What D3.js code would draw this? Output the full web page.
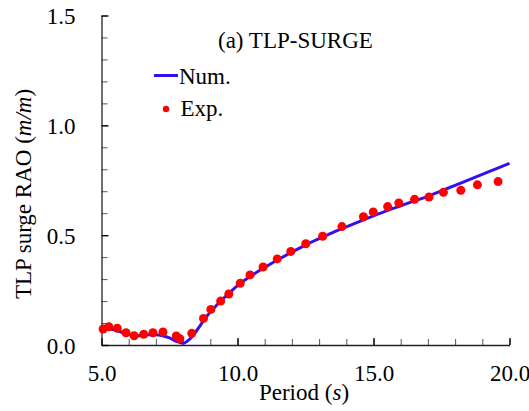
<!DOCTYPE html>
<html>
<head>
	<meta charset="utf-8">
	<script src="https://cdn.jsdelivr.net/npm/d3@7"></script>
</head>
<body style="margin:0;background-color:#fff;">
</body>
</html>
<script type="text/javascript">
	var width = 529;
	var height = 411;
	var font = "Liberation Serif";

	// numerical RAO curve
	var numPeriod = [5.0, 5.25, 5.5, 5.75, 6.0, 6.25, 6.5, 6.75, 7.0, 7.25, 7.5, 7.75, 8.0, 8.25, 8.5, 8.75,
		9.0, 9.25, 9.5, 9.75, 10.0, 10.5, 11.0, 11.5, 12.0, 12.5, 13.0, 13.5, 14.0, 14.5, 15.0,
		15.5, 16.0, 16.5, 17.0, 17.5, 18.0, 18.5, 19.0, 19.5, 20.0];
	var numRao = [0.066, 0.073, 0.068, 0.058, 0.048, 0.042, 0.043, 0.047, 0.047, 0.042, 0.032, 0.017, 0.008, 0.028, 0.066, 0.110,
		0.150, 0.183, 0.214, 0.243, 0.270, 0.315, 0.353, 0.389, 0.423, 0.455, 0.484, 0.512, 0.538, 0.563, 0.588,
		0.612, 0.634, 0.656, 0.677, 0.702, 0.727, 0.752, 0.777, 0.802, 0.827];

	// experiment points
	var expPeriod = [5.06, 5.27, 5.58, 5.90, 6.20, 6.55, 6.89, 7.26, 7.75, 7.88, 8.32, 8.75, 9.02, 9.38, 9.68,
		10.10, 10.46, 10.94, 11.46, 11.96, 12.51, 13.13, 13.84, 14.63, 14.99, 15.52, 15.93, 16.51, 17.04,
		17.57, 18.21, 18.82, 19.58];
	var expRao = [0.073, 0.083, 0.076, 0.056, 0.042, 0.049, 0.056, 0.059, 0.041, 0.029, 0.053, 0.121, 0.162, 0.200, 0.232,
		0.281, 0.319, 0.355, 0.392, 0.426, 0.461, 0.495, 0.539, 0.584, 0.606, 0.630, 0.647, 0.663, 0.674,
		0.695, 0.704, 0.729, 0.744];

	var xTicks = [5, 10, 15, 20];
	var yTicks = [0, 0.5, 1.0, 1.5];

	var svg = d3.select("body").append("svg").attr("width", width).attr("height", height);

	var x = d3.scaleLinear().domain([5, 20]).range([101.5, 509.5]);
	var y = d3.scaleLinear().domain([0, 1.5]).range([345, 15.5]);

	// minor ticks first, then the major ones on top
	svg.append("g").attr("transform", "translate(0,345)")
		.call(d3.axisBottom(x).tickValues(d3.range(5, 20.01, 1)).tickSizeInner(-6).tickSizeOuter(0).tickFormat(""))
		.call(function(g){ g.select(".domain").remove(); g.selectAll("line").attr("stroke", "#555"); });
	svg.append("g").attr("transform", "translate(101.5,0)")
		.call(d3.axisLeft(y).tickValues(d3.range(0, 1.501, 0.1)).tickSizeInner(-6).tickSizeOuter(0).tickFormat(""))
		.call(function(g){ g.select(".domain").remove(); g.selectAll("line").attr("stroke", "#555"); });

	var xAxis = svg.append("g").attr("transform", "translate(0,345)")
		.call(d3.axisBottom(x).tickValues(xTicks).tickSizeInner(-7).tickSizeOuter(0).tickFormat(d3.format(".1f")));
	var yAxis = svg.append("g").attr("transform", "translate(101.5,0)")
		.call(d3.axisLeft(y).tickValues(yTicks).tickSizeInner(-7).tickSizeOuter(0).tickFormat(d3.format(".1f")));

	[xAxis, yAxis].forEach(function(g){
		g.attr("font-family", font).attr("font-size", 23);
		g.select(".domain").attr("stroke", "#222").attr("stroke-width", 1.3);
		g.selectAll("line").attr("stroke", "#000").attr("stroke-width", 1.3);
		g.selectAll("text").attr("fill", "#000");
	});
	// labels sit well away from the axis lines
	xAxis.selectAll("text").attr("y", 0).attr("dy", 0).attr("transform", "translate(0,36)");
	yAxis.selectAll("text").attr("x", 0).attr("dy", "0.35em").attr("transform", "translate(-26,0)");

	// numerical line
	var line = d3.line()
		.x(function(d){ return x(d[0]); })
		.y(function(d){ return y(d[1]); })
		.curve(d3.curveMonotoneX);
	svg.append("path")
		.datum(d3.zip(numPeriod, numRao))
		.attr("d", line)
		.attr("fill", "none")
		.attr("stroke", "#3311ee")
		.attr("stroke-width", 3);

	// experiment dots
	svg.selectAll("circle.exp")
		.data(d3.zip(expPeriod, expRao))
		.enter()
		.append("circle")
		.attr("class", "exp")
		.attr("cx", function(d){ return x(d[0]); })
		.attr("cy", function(d){ return y(d[1]); })
		.attr("r", 4.5)
		.attr("fill", "#ff0000");

	// titles
	function label(xp, yp) {
		return svg.append("text").attr("x", xp).attr("y", yp)
			.attr("font-family", font).attr("font-size", 23).attr("fill", "#000");
	}
	label(218, 48).text("(a) TLP-SURGE");

	var yt = label(0, 0).attr("transform", "translate(31,194) rotate(-90)").attr("text-anchor", "middle");
	yt.append("tspan").text("TLP surge RAO (");
	yt.append("tspan").attr("font-style", "italic").text("m/m");
	yt.append("tspan").text(")");

	var xt = label(304, 400).attr("text-anchor", "middle");
	xt.append("tspan").text("Period (");
	xt.append("tspan").attr("font-style", "italic").text("s");
	xt.append("tspan").text(")");

	// legend
	svg.append("line").attr("x1", 154).attr("x2", 178).attr("y1", 75.5).attr("y2", 75.5)
		.attr("stroke", "#3311ee").attr("stroke-width", 3);
	label(179, 84).text("Num.");
	svg.append("circle").attr("cx", 166).attr("cy", 109).attr("r", 3.2).attr("fill", "#ff0000");
	label(180.5, 115.5).text("Exp.");
</script>
